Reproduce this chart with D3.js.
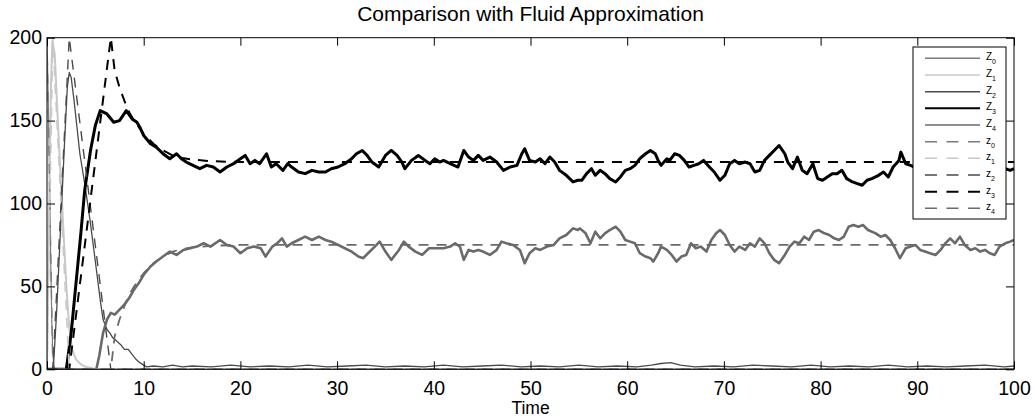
<!DOCTYPE html>
<html>
<head>
<meta charset="utf-8">
<script src="https://cdn.jsdelivr.net/npm/d3@7"></script>
<style>
  html, body { margin: 0; padding: 0; background: #fff; }
  svg { display: block; font-family: "Liberation Sans", Arial, Helvetica, sans-serif; }
</style>
</head>
<body>
<svg id="chart" width="1035" height="419"></svg>
<script>
// ---------------- data ----------------
const chartTitle = "Comparison with Fluid Approximation";
const xLabel = "Time";
const xTicks = [0, 10, 20, 30, 40, 50, 60, 70, 80, 90, 100];
const yTicks = [0, 50, 100, 150, 200];
const legendLabels = ["Z0", "Z1", "Z2", "Z3", "Z4", "z0", "z1", "z2", "z3", "z4"];

// stochastic simulation (solid)
const Z0 = [[0,200],[0.1,170],[0.2,140],[0.3,100],[0.4,60],[0.5,28],[0.6,10],[0.7,3],[0.8,0],[100,0]];
const Z1 = [[0,0],[0.2,90],[0.4,170],[0.55,198],[0.8,190],[1.2,140],[1.6,95],[2.0,50],[2.3,25],[2.6,12],[3.0,6],[3.5,3],[4.0,1.5],[4.8,0.5],[5.5,0],[100,0]];
const Z2 = [[0,0],[0.65,0],[1.0,35],[1.4,85],[1.8,135],[2.1,170],[2.3,179],[2.5,176],[2.8,162],[3.1,146],[3.4,130],[3.9,112],[4.45,90],[5.0,65],[5.5,42],[5.8,30],[6.2,24],[6.5,22],[6.8,19],[7.2,17],[7.6,15],[8.0,12],[8.4,12],[8.8,9],[9.2,6],[9.6,4],[10.0,2.5],
  [10.3,1.5],[11,2],[12,1.5],[13,2.5],[14,1.5],[15,2],[17,1.5],[19,2.5],[21,1.5],[23,2],[25,1.5],[27,2.5],[29,1.5],[31,2],[33,2.5],[35,1.5],[37,2],[39,1.5],[41,2.5],[43,1.5],[45,2],[47,2.5],[49,1.5],[51,2],[53,1.5],[55,2.5],[57,1.5],[59,2],[61,1.5],[62.5,2.5],[63.5,3.5],[64.5,4],[65.5,2.5],[67,1.5],[69,2],[71,1.5],[73,2.5],[75,2],[77,1.5],[79,2.5],[81,1.5],[83,2],[85,1.5],[87,2.5],[89,1.5],[91,2],[93,1.5],[95,2],[97,2.5],[99,1.5],[100,2]];
const Z3 = [[0,0],[2.0,0],[2.5,22],[3.0,52],[3.5,82],[3.9,108],[4.5,132],[5.0,147],[5.5,156],[6.2,154],[6.9,149],[7.5,150],[8.2,156],[8.8,151],[9.3,149],[9.6,146],[10.0,141],[10.7,136],[11.3,134],[12.0,130],[12.7,127],[13.4,130],[13.9,127],[14.4,125],[15.1,123],[15.8,121],[16.5,123],[17.2,122],[17.9,119],[18.6,122],[19.3,124],[20.0,127],[20.5,129],[21.0,124],[21.5,126],[22.0,124],[22.7,130],[23.2,122],[23.7,124],[24.4,120],[24.9,124],
  [25.3,122],[26.0,119],[26.7,118],[27.4,120],[28.1,119],[28.8,119],[29.4,121],[30.1,122],[30.8,124],[31.5,127],[32.0,130],[32.6,132],[33.1,129],[33.6,125],[34.3,122],[35.0,129],[35.6,132],[36.2,129],[36.7,125],[37.0,121],[37.7,126],[38.4,129],[39.1,126],[39.6,124],[40.1,127],
  [40.6,125],[41.0,126],[41.7,124],[42.5,122],[43.1,132],[43.6,128],[44.1,126],[44.6,129],[45.1,126],[45.8,128],[46.5,125],[47.2,120],[47.9,122],[48.6,123],[49.1,130],[49.4,133],[49.9,126],[50.5,125],[51.0,127],[51.5,124],[52.0,128],[52.5,125],[53.0,120],[53.7,117],[54.4,113],[54.9,114],
  [55.3,114],[55.8,118],[56.3,121],[56.7,117],[57.2,120],[57.7,118],[58.2,115],[58.8,113],[59.3,116],[59.8,120],[60.3,121],[60.8,123],[61.3,127],[61.9,130],[62.4,132],[62.9,130],[63.2,126],[63.5,123],[64.1,127],[64.4,126],[64.9,130],[65.4,129],[65.9,126],[66.4,122],[66.9,123],[67.4,124],[67.9,126],[68.5,122],[69.0,119],[69.6,114],[70.1,117],
  [70.6,124],[71.1,126],[71.6,124],[72.2,125],[72.7,124],[73.2,119],[73.7,120],[74.2,126],[74.7,129],[75.2,132],[75.7,135],[76.3,130],[76.6,125],[77.1,121],[77.6,128],[78.1,120],[78.6,118],[79.2,124],[79.7,115],[80.2,114],[80.7,116],[81.2,118],[81.7,118],[82.2,120],[82.7,115],[83.3,113],[83.8,112],[84.3,111],[84.8,114],
  [85.3,115],[86.0,117],[86.5,119],[87.0,116],[87.5,122],[88.1,126],[88.3,131],[88.8,124],[89.3,123],[89.7,122],[90.5,124],[91.5,126],[92.5,123],[93.5,125],[94.5,127],[95.5,124],[96.5,122],[97.5,125],[98.5,123],[99.1,121],[99.6,120],[100,121]];
const Z4 = [[0,0],[5.1,0],[5.4,8],[5.8,22],[6.2,30],[6.6,34],[7.0,33],[7.5,36],[8.0,39],[8.5,43],[9.0,48],[9.6,53],[10.0,57],[10.7,62],[11.3,65],[12.0,68],[12.7,71],[13.4,69],[14.1,72],[14.8,73],[15.5,74],[16.2,76],[16.9,74],[17.9,78],[18.6,75],[19.3,74],[20.0,70],[20.7,73],[21.4,74],[22.1,73],[22.6,68],[23.3,74],[23.8,76],[24.3,79],[24.8,74],
  [25.3,76],[26.0,78],[26.7,80],[27.4,78],[28.1,80],[28.8,78],[29.4,77],[30.1,75],[30.8,73],[31.5,71],[32.2,68],[32.7,67],[33.2,70],[33.9,74],[34.4,77],[35.0,71],[35.6,66],[36.4,72],[36.9,77],[37.4,74],[38.1,71],[38.8,69],[39.5,73],[40.1,73],
  [41.0,73],[41.7,74],[42.2,76],[42.7,74],[43.1,66],[43.6,72],[44.1,71],[44.6,72],[45.1,71],[45.8,69],[46.5,72],[47.0,77],[47.5,76],[48.2,75],[48.9,72],[49.4,64],[49.9,70],[50.5,73],[51.0,72],[51.7,74],[52.4,75],[53.0,79],[53.7,81],[54.4,85],[54.9,84],
  [55.1,85],[55.7,82],[56.2,76],[56.7,83],[57.2,79],[57.7,82],[58.2,84],[58.8,86],[59.3,83],[59.8,78],[60.3,77],[60.8,76],[61.3,70],[61.9,68],[62.4,67],[62.7,65],[63.2,70],[63.5,74],[64.1,72],[64.6,69],[65.1,65],[65.6,68],[66.1,69],[66.6,76],[67.1,73],[67.6,74],[68.2,71],[68.7,78],[69.2,82],[69.6,84],
  [70.1,81],[70.6,75],[71.1,71],[71.6,74],[72.2,72],[72.7,76],[73.2,74],[73.7,79],[74.2,76],[74.7,70],[75.2,66],[75.7,64],[76.3,69],[76.8,74],[77.3,77],[77.8,76],[78.3,80],[78.8,78],[79.3,83],[79.8,84],[80.4,82],[80.9,81],[81.4,79],[81.9,78],[82.4,80],[82.9,86],[83.4,87],[83.9,86],[84.4,87],[84.9,84],
  [85.7,82],[86.2,80],[86.7,81],[87.2,78],[87.7,73],[88.2,67],[88.8,73],[89.3,74],[89.8,75],[90.3,72],[90.8,71],[91.3,70],[91.9,69],[92.4,72],[92.9,76],[93.4,79],[93.9,76],[94.4,80],[94.9,75],[95.5,72],[96.0,73],[96.5,71],[97.0,72],[97.5,70],[98.0,69],[98.5,74],[99.1,76],[99.6,77],[100,78]];

// fluid approximation (dashed)
const z0 = [[0,200],[0.6,0],[100,0]];
const z1 = [[0,0],[0.6,200],[2.3,0],[100,0]];
const z2 = [[0,0],[0.6,0],[2.3,200],[6.6,0],[100,0]];
const z3 = [[0,0],[2.3,0],[6.6,200],[7.0,180],[7.5,170],[8.0,162],[8.5,155],[9.0,150],[9.5,146],[10,142],[11,136],[12,132],[13,129],[14,127.5],[15,126.5],[17,125.5],[20,125],[100,125]];
const z4 = [[0,0],[6.6,0],[7.0,20],[7.5,30],[8.0,38],[8.5,45],[9.0,50],[9.5,54],[10,58],[11,64],[12,68],[13,71],[14,72.5],[15,73.5],[17,74.5],[20,75],[100,75]];

// ---------------- layout / style ----------------
const margin = { left: 47, right: 1014, top: 37.7, bottom: 369.3 };
const colors = ["#7a7a7a", "#c8c8c8", "#4a4a4a", "#000000", "#6a6a6a"];
const solidWidths = [1.2, 2, 1.3, 3, 2.6];
const dashWidths = [1.4, 1.6, 1.4, 2, 1.8];

const svg = d3.select("#chart");
const x = d3.scaleLinear().domain([0, 100]).range([margin.left, margin.right]);
const y = d3.scaleLinear().domain([0, 200]).range([margin.bottom, margin.top]);

svg.append("defs").append("clipPath").attr("id", "plotclip")
  .append("rect")
  .attr("x", margin.left).attr("y", margin.top)
  .attr("width", margin.right - margin.left).attr("height", margin.bottom - margin.top);

const line = d3.line().x(d => x(d[0])).y(d => y(d[1]));
const plot = svg.append("g").attr("clip-path", "url(#plotclip)");

const solids = [Z0, Z1, Z2, Z3, Z4];
const dashed = [z0, z1, z2, z3, z4];

solids.forEach((s, i) => {
  plot.append("path").datum(s)
    .attr("d", line).attr("fill", "none")
    .attr("stroke", colors[i]).attr("stroke-width", solidWidths[i])
    .attr("stroke-linejoin", "round");
});
dashed.forEach((s, i) => {
  plot.append("path").datum(s)
    .attr("d", line).attr("fill", "none")
    .attr("stroke", colors[i]).attr("stroke-width", dashWidths[i])
    .attr("stroke-dasharray", "10,8");
});

// ---------------- axes ----------------
const tickLen = 8;
const tickFont = 19.5;

const gx = svg.append("g").attr("transform", `translate(0,${margin.bottom})`)
  .call(d3.axisBottom(x).tickValues(xTicks).tickSizeInner(-tickLen).tickSizeOuter(0).tickPadding(12));
const gxt = svg.append("g").attr("transform", `translate(0,${margin.top})`)
  .call(d3.axisTop(x).tickValues(xTicks).tickSizeInner(-tickLen).tickSizeOuter(0).tickFormat(""));
const gy = svg.append("g").attr("transform", `translate(${margin.left},0)`)
  .call(d3.axisLeft(y).tickValues(yTicks).tickSizeInner(-tickLen).tickSizeOuter(0).tickPadding(5));
const gyr = svg.append("g").attr("transform", `translate(${margin.right},0)`)
  .call(d3.axisRight(y).tickValues(yTicks).tickSizeInner(-tickLen).tickSizeOuter(0).tickFormat(""));

[gx, gxt, gy, gyr].forEach(g => {
  g.select(".domain").remove();
  g.selectAll(".tick line").attr("stroke", "#000").attr("stroke-width", 1);
  g.selectAll("text").attr("font-size", tickFont).attr("fill", "#000")
    .attr("font-family", "'Liberation Sans', Arial, sans-serif");
});

svg.append("rect")
  .attr("x", margin.left).attr("y", margin.top)
  .attr("width", margin.right - margin.left).attr("height", margin.bottom - margin.top)
  .attr("fill", "none").attr("stroke", "#000").attr("stroke-width", 1);

// title & x label
svg.append("text").attr("x", (margin.left + margin.right) / 2).attr("y", 21)
  .attr("text-anchor", "middle").attr("font-size", 21).text(chartTitle);
svg.append("text").attr("x", (margin.left + margin.right) / 2).attr("y", 414)
  .attr("text-anchor", "middle").attr("font-size", 17.5).text(xLabel);

// ---------------- legend ----------------
const lg = svg.append("g");
const lgX = 913, lgY = 47, lgW = 93, lgH = 172;
lg.append("rect").attr("x", lgX).attr("y", lgY).attr("width", lgW).attr("height", lgH)
  .attr("fill", "#fff").attr("stroke", "#000").attr("stroke-width", 1);

legendLabels.forEach((lab, i) => {
  const cy = 58.3 + i * 16.67;
  const ci = i % 5;
  lg.append("line")
    .attr("x1", 925).attr("x2", 980).attr("y1", cy).attr("y2", cy)
    .attr("stroke", colors[ci]).attr("stroke-width", ci === 3 ? 2 : 1.5)
    .attr("stroke-dasharray", i >= 5 ? "12,9.5" : null);
  const t = lg.append("text").attr("x", 986).attr("y", cy + 2).attr("font-size", 10).attr("fill", "#000");
  t.append("tspan").text(lab[0]);
  t.append("tspan").attr("dy", 4).attr("font-size", 7).text(lab.slice(1));
});
</script>
</body>
</html>
